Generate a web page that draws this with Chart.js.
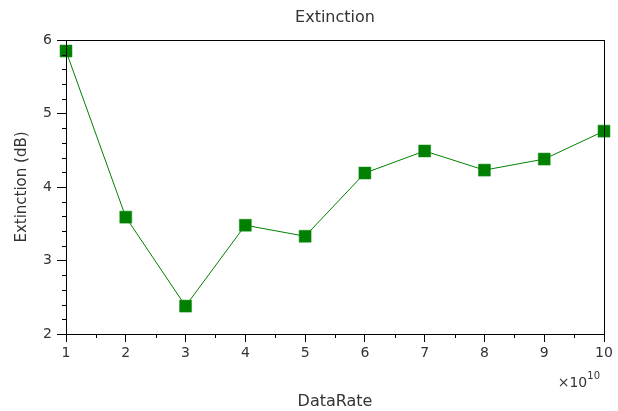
<!DOCTYPE html>
<html>
<head>
<meta charset="utf-8">
<script src="https://cdn.jsdelivr.net/npm/chart.js@4/dist/chart.umd.min.js"></script>
<style>
  html, body { margin: 0; padding: 0; background: #fff; }
  #wrap { width: 618px; height: 411px; }
</style>
</head>
<body>
<div id="wrap"><canvas id="c" width="618" height="411"></canvas></div>
<script>
// Data rate in units of 1e10 (the axis carries a ×10^10 multiplier)
const dataRate = [1, 2, 3, 4, 5, 6, 7, 8, 9, 10];
// Extinction ratio in dB
const extinction = [5.85, 3.59, 2.38, 3.48, 3.33, 4.19, 4.49, 4.23, 4.38, 4.76];
const xTickValues = [1, 2, 3, 4, 5, 6, 7, 8, 9, 10];
const yTickValues = [2, 3, 4, 5, 6];
const chartTitle = 'Extinction';

const FONT = "'DejaVu Sans', 'Liberation Sans', sans-serif";
const TEXT = '#333';
const GREEN = '#008000';

// Title over the plot area, plot frame, minor ticks and the axis multiplier label
const framePlugin = {
  id: 'frame',
  afterDraw(chart) {
    const { ctx, chartArea: a, scales } = chart;
    ctx.save();
    ctx.fillStyle = TEXT;
    ctx.font = '16px ' + FONT;
    ctx.textAlign = 'center';
    ctx.textBaseline = 'middle';
    ctx.fillText(chartTitle, (a.left + a.right) / 2, 18);

    ctx.strokeStyle = '#000';
    ctx.lineWidth = 1;
    ctx.strokeRect(Math.round(a.left) + 0.5, Math.round(a.top) + 0.5,
                   Math.round(a.right - a.left), Math.round(a.bottom - a.top));
    // minor ticks on x every 0.5
    ctx.beginPath();
    for (let v = 1.5; v < 10; v += 1) {
      const px = Math.round(scales.x.getPixelForValue(v)) + 0.5;
      ctx.moveTo(px, a.bottom);
      ctx.lineTo(px, a.bottom + 4);
    }
    // minor ticks on y every 0.2
    for (let i = 0; i < 4; i++) {
      for (let k = 1; k <= 4; k++) {
        const v = 2 + i + k * 0.2;
        const py = Math.round(scales.y.getPixelForValue(v)) + 0.5;
        ctx.moveTo(a.left, py);
        ctx.lineTo(a.left - 4, py);
      }
    }
    ctx.stroke();
    // ×10^10 multiplier
    ctx.textBaseline = 'alphabetic';
    ctx.textAlign = 'left';
    ctx.font = '14px ' + FONT;
    const base = '\u00d710';
    const w = ctx.measureText(base).width;
    ctx.font = '10px ' + FONT;
    const sw = ctx.measureText('10').width;
    const x0 = a.right - 4 - w - sw;
    ctx.font = '14px ' + FONT;
    ctx.fillText(base, x0, a.bottom + 53);
    ctx.font = '10px ' + FONT;
    ctx.fillText('10', x0 + w, a.bottom + 45);
    ctx.restore();
  }
};

new Chart(document.getElementById('c'), {
  type: 'line',
  data: {
    datasets: [{
      label: 'Extinction',
      data: dataRate.map((x, i) => ({ x, y: extinction[i] })),
      borderColor: GREEN,
      borderWidth: 1,
      backgroundColor: GREEN,
      pointStyle: 'rect',
      pointRadius: 8.5,
      pointHoverRadius: 8.5,
      pointBackgroundColor: GREEN,
      pointBorderColor: '#1f8f1f',
      pointBorderWidth: 0.5,
      tension: 0,
      clip: false
    }]
  },
  options: {
    responsive: false,
    animation: false,
    events: [],
    layout: { padding: { left: 0, right: 14, top: 40, bottom: 0 } },
    plugins: {
      legend: { display: false },
      tooltip: { enabled: false },
      title: { display: false }
    },
    scales: {
      x: {
        type: 'linear',
        min: 1, max: 10,
        afterBuildTicks(scale) { scale.ticks = xTickValues.map(v => ({ value: v })); },
        afterFit(scale) { scale.height = 77; },
        ticks: { color: TEXT, font: { family: FONT, size: 14 }, padding: 3, maxRotation: 0, autoSkip: false,
                 callback: v => String(v) },
        grid: { drawOnChartArea: false, drawTicks: true, tickLength: 8, color: '#000' },
        border: { display: true, color: '#000' },
        title: { display: true, text: 'DataRate', color: TEXT,
                 font: { family: FONT, size: 16, lineHeight: 1.2 }, padding: 0 }
      },
      y: {
        type: 'linear',
        min: 2, max: 6,
        afterBuildTicks(scale) { scale.ticks = yTickValues.map(v => ({ value: v })); },
        afterFit(scale) { scale.width = 66; },
        ticks: { color: TEXT, font: { family: FONT, size: 14 }, padding: 5, autoSkip: false,
                 callback: v => String(v) },
        grid: { drawOnChartArea: false, drawTicks: true, tickLength: 9, color: '#000' },
        border: { display: true, color: '#000' },
        title: { display: true, text: 'Extinction (dB)', color: TEXT,
                 font: { family: FONT, size: 15, lineHeight: 1.2 }, padding: 13 }
      }
    }
  },
  plugins: [framePlugin]
});
</script>
</body>
</html>
